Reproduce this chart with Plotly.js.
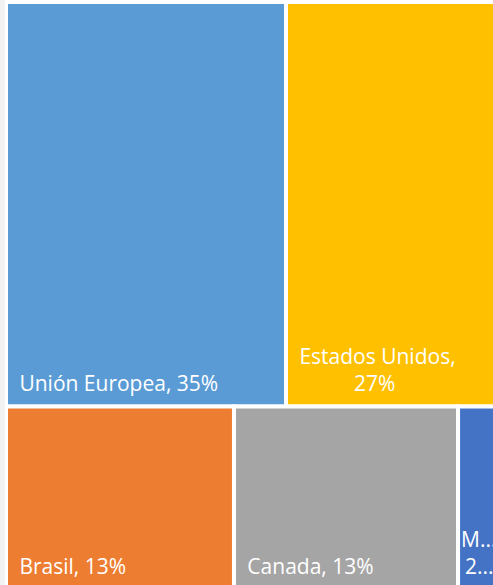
<!DOCTYPE html>
<html>
<head>
<meta charset="utf-8">
<script src="https://cdn.plot.ly/plotly-3.0.1.min.js"></script>
<style>
  html, body { margin: 0; padding: 0; background: #ffffff; overflow: hidden; width: 493px; height: 585px; }
  #chart { position: absolute; left: 0; top: 0; }
  #strip { position: absolute; left: 0; top: 0; width: 5px; height: 585px; background: #f2f2f2; z-index: 10; }
</style>
</head>
<body>
<div id="chart"></div>
<div id="strip"></div>
<script>
// Data
const regions = ["Unión Europea", "Estados Unidos", "Brasil", "Canada", "México"];
const shares = [35, 27, 12.87, 12.65, 2.48];
const shareLabels = ["35%", "27%", "13%", "13%", "2%"];
// Label lines as they appear in the picture (Excel wraps / truncates some)
const labelLines = [
  ["Unión Europea, 35%"],
  ["Estados Unidos,", "27%"],
  ["Brasil, 13%"],
  ["Canada, 13%"],
  ["M...", "2..."]
];
const colors = ["#5B9BD5", "#FFC000", "#ED7D31", "#A5A5A5", "#4472C4"];

// styling helpers: an invisible wide/tall spacer gives the label an inset from the tile edge
const INSET = '<span style="font-size:40px">\u00A0</span>';
const SMALLINSET = '<span style="font-size:40px">\u200A</span>';
const NB = '\u00A0';
function buildText(lines, i) {
  if (i === 4) {
    return lines[0] + '<br>' + SMALLINSET + lines[1];
  }
  if (lines.length === 2) {
    return INSET + lines[0] + '<br>' + INSET + NB.repeat(10) + lines[1];
  }
  return INSET + lines[0];
}
const displayText = labelLines.map(buildText);

const trace = {
  type: "treemap",
  labels: regions,
  parents: regions.map(() => ""),
  values: shares,
  text: displayText,
  customdata: shareLabels,
  texttemplate: "%{text}",
  textposition: "bottom left",
  textfont: { family: "Open Sans, sans-serif", size: 21, color: "#ffffff" },
  marker: {
    colors: colors,
    line: { color: "#ffffff", width: 4 },
    pad: { t: 0, l: 0, r: 0, b: 0 }
  },
  pathbar: { visible: false },
  tiling: { packing: "squarify", pad: 0 },
  sort: true,
  hoverinfo: "none"
};

const layout = {
  width: 502,
  height: 589,
  autosize: false,
  margin: { l: 6, r: 0, t: 2, b: 0, pad: 0 },
  paper_bgcolor: "#ffffff",
  plot_bgcolor: "#ffffff",
  showlegend: false,
  treemapcolorway: colors
};

Plotly.newPlot("chart", [trace], layout, { displayModeBar: false, staticPlot: true });
</script>
</body>
</html>
